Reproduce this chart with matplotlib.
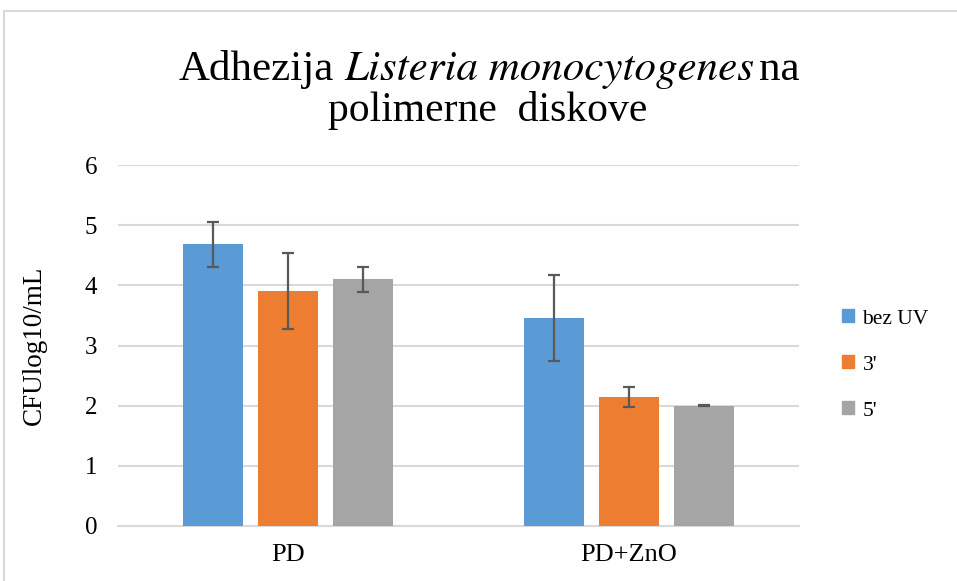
import numpy as np
import matplotlib.pyplot as plt
from matplotlib.patches import Rectangle, Patch

plt.rcParams['font.family'] = 'Liberation Serif'

categories = ['PD', 'PD+ZnO']
series = ['bez UV', "3'", "5'"]
means = [[4.68, 3.46],
         [3.90, 2.14],
         [4.10, 2.00]]
errors = [[0.37, 0.72],
          [0.63, 0.17],
          [0.21, 0.005]]
colors = ['#5B9BD5', '#ED7D31', '#A5A5A5']

fig = plt.figure(figsize=(9.57, 5.81), dpi=100)
ax = fig.add_axes([118/957, 1 - 526/581, (799-118)/957, (526-165)/581])

# chart area border
fig.patches.append(Rectangle((4/957, -0.1), 1.2, 1 - 11/581 + 0.1,
                             transform=fig.transFigure, fill=False,
                             edgecolor='#d9d9d9', linewidth=1.5))

x = np.arange(len(categories))
width = 60/340
step = 75/340
for i, name in enumerate(series):
    ax.bar(x + (i - 1)*step, means[i], width, color=colors[i], label=name, zorder=3)
    ax.errorbar(x + (i - 1)*step, means[i], yerr=errors[i], fmt='none',
                ecolor='#595959', elinewidth=1.6, capsize=4.3, capthick=1.6, zorder=4)

ax.set_xlim(-0.5, 1.5)
ax.set_ylim(0, 6)
ax.set_yticks(range(7))
ax.set_xticks(x)
ax.set_xticklabels(categories)
ax.grid(axis='y', color='#d9d9d9', linewidth=1.5, zorder=0)
for s in ['top', 'right', 'left']:
    ax.spines[s].set_visible(False)
ax.spines['bottom'].set_color('#d9d9d9')
ax.spines['bottom'].set_linewidth(1.5)
ax.tick_params(axis='both', length=0, colors='#000000')
ax.tick_params(axis='y', pad=15, labelsize=18)
ax.tick_params(axis='x', pad=13, labelsize=19)
ax.set_ylabel('CFUlog10/mL', fontsize=19.5)
ax.yaxis.set_label_coords(-0.105, 0.5)

# title: line 1 has an italic species name, so lay it out piece by piece
# (no Liberation Serif italic installed -> STIX italic, Times-like)
title_size = 31
renderer = fig.canvas.get_renderer()
pieces = [('Adhezija', 'Liberation Serif', 'normal'),
          ('Listeria monocytogenes', 'STIXGeneral', 'italic'),
          ('na', 'Liberation Serif', 'normal')]
gaps = [10, 5]
y1 = 1 - 80/581
texts = []
for s, fam, st in pieces:
    t = fig.text(0, y1, s, fontsize=title_size, family=fam, style=st,
                 va='baseline', ha='left')
    texts.append(t)
widths = [t.get_window_extent(renderer).width for t in texts]
total = sum(widths) + sum(gaps)
xpos = 489 - total/2
for t, w, g in zip(texts, widths, gaps + [0]):
    t.set_x(xpos/957)
    xpos += w + g
fig.text(488/957, 1 - 121/581, 'polimerne  diskove', fontsize=30,
         ha='center', va='baseline')

handles = [Patch(color=c) for c in colors]
ax.legend(handles, series, loc='center left', bbox_to_anchor=(842/957, 1 - 365/581),
          bbox_transform=fig.transFigure, frameon=False, fontsize=15.5,
          handlelength=0.55, handleheight=0.55, handletextpad=0.4,
          labelspacing=1.25, borderpad=0, borderaxespad=0)

fig.savefig('out.png', dpi=100)
